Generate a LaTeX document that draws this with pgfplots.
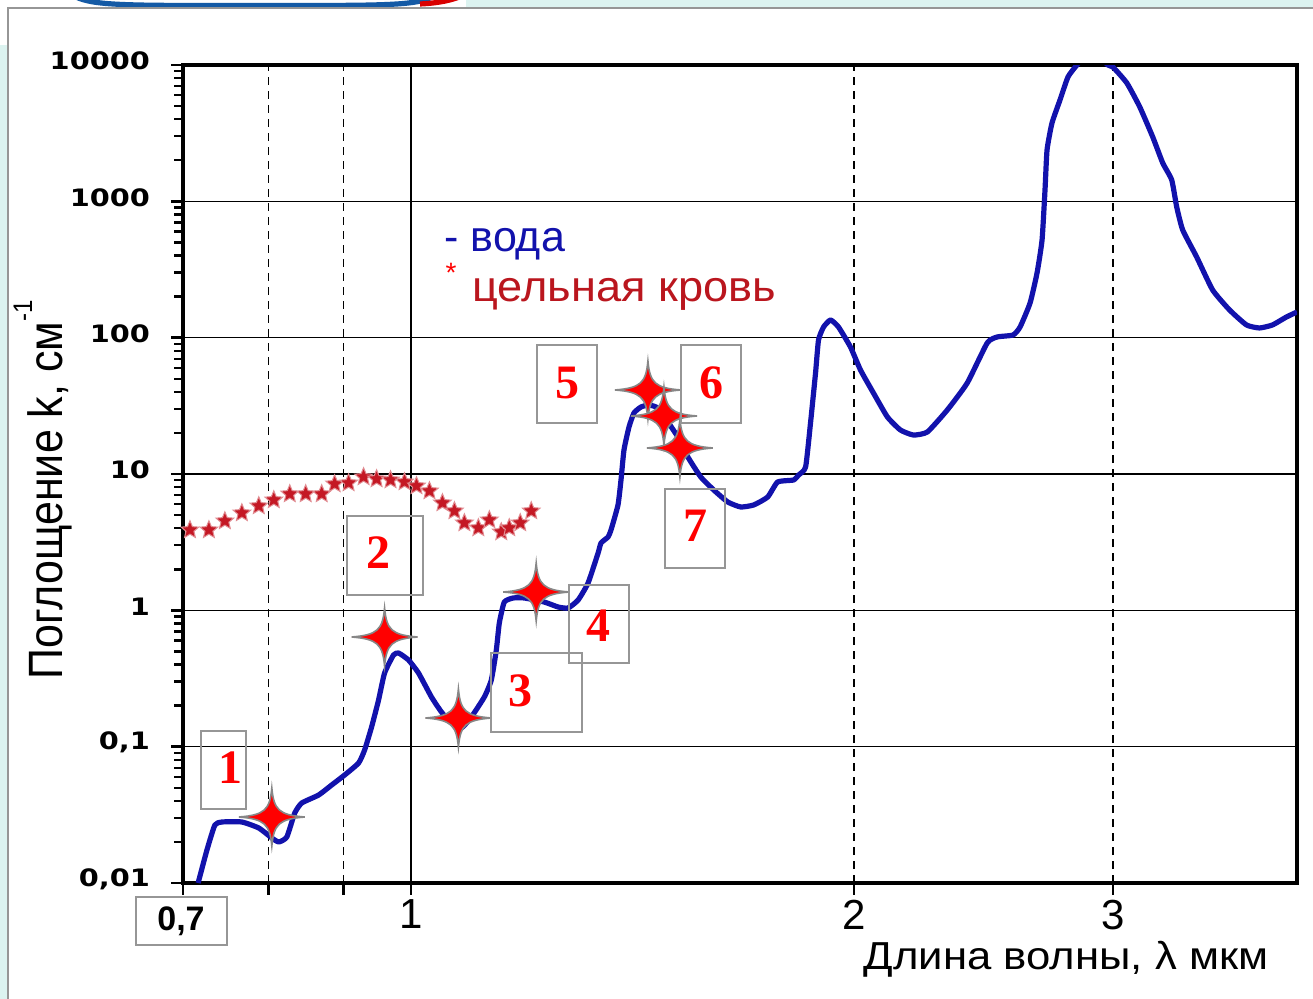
\documentclass[border=0pt]{standalone}
\usepackage{pgfplots}
\pgfplotsset{compat=1.18}
\usepackage{graphicx}
\usepackage{fontspec}
\setmainfont{Liberation Sans}
\newfontfamily\dejavu{DejaVu Sans}
\newfontfamily\tnr{Liberation Serif}
\definecolor{bgteal}{RGB}{220,243,240}
\definecolor{panelgray}{RGB}{150,150,150}
\definecolor{water}{RGB}{18,18,172}
\definecolor{blood}{RGB}{196,24,36}
\definecolor{bloodtxt}{RGB}{186,22,30}
\definecolor{boxgray}{RGB}{150,150,150}
\definecolor{logoblue}{RGB}{20,90,165}
\definecolor{sparkgray}{RGB}{135,135,135}

\newcommand{\yl}[1]{\mbox{\dejavu\bfseries\fontsize{12}{12}\selectfont\scalebox{1.2}[1]{#1}}}

\pgfdeclareplotmark{fstar}{%
 \pgfpathmoveto{\pgfpointpolar{90}{\pgfplotmarksize}}%
 \pgfpathlineto{\pgfpointpolar{126}{0.45\pgfplotmarksize}}%
 \pgfpathlineto{\pgfpointpolar{162}{\pgfplotmarksize}}%
 \pgfpathlineto{\pgfpointpolar{198}{0.45\pgfplotmarksize}}%
 \pgfpathlineto{\pgfpointpolar{234}{\pgfplotmarksize}}%
 \pgfpathlineto{\pgfpointpolar{270}{0.45\pgfplotmarksize}}%
 \pgfpathlineto{\pgfpointpolar{306}{\pgfplotmarksize}}%
 \pgfpathlineto{\pgfpointpolar{342}{0.45\pgfplotmarksize}}%
 \pgfpathlineto{\pgfpointpolar{18}{\pgfplotmarksize}}%
 \pgfpathlineto{\pgfpointpolar{54}{0.45\pgfplotmarksize}}%
 \pgfpathclose
 \pgfusepathqfillstroke
}
\pgfdeclareplotmark{sparkle}{%
 \pgfpathmoveto{\pgfpoint{16.5pt}{0pt}}%
 \pgfpathcurveto{\pgfpoint{3.6pt}{1pt}}{\pgfpoint{1pt}{3.6pt}}{\pgfpoint{0pt}{14.5pt}}%
 \pgfpathcurveto{\pgfpoint{-1pt}{3.6pt}}{\pgfpoint{-3.6pt}{1pt}}{\pgfpoint{-16.5pt}{0pt}}%
 \pgfpathcurveto{\pgfpoint{-3.6pt}{-1pt}}{\pgfpoint{-1pt}{-3.6pt}}{\pgfpoint{0pt}{-14.5pt}}%
 \pgfpathcurveto{\pgfpoint{1pt}{-3.6pt}}{\pgfpoint{3.6pt}{-1pt}}{\pgfpoint{16.5pt}{0pt}}%
 \pgfpathclose
 \pgfusepathqfillstroke
}

\begin{document}
\begin{tikzpicture}
\begin{scope}[x=0.5pt,y=-0.5pt]
\useasboundingbox (0,0) rectangle (1313,999);
\fill[bgteal] (0,0) rectangle (1313,999);
\fill[white] (0,0) rectangle (466,8);
\fill[white] (0,0) rectangle (8,45);
\fill[white] (8,8) rectangle (1320,1005);
\begin{scope}
 \clip (0,0) rectangle (466,7.5);
 \draw[logoblue, line width=2.6pt] (76,-3) .. controls (95,6) and (130,5.5) .. (255,5.5) .. controls (380,5.5) and (415,6) .. (432,-3);
 \draw[red!85!black, line width=2.6pt] (420,4) .. controls (440,3) and (452,0) .. (462,-4);
\end{scope}
\draw[panelgray, line width=1.2pt] (8,1005) -- (8,8) -- (1320,8);
\end{scope}

\begin{axis}[
  at={(91.5pt,-441.5pt)}, anchor=south west,
  scale only axis, width=557pt, height=409pt,
  xmode=log, ymode=log,
  xmin=0.7, xmax=4, ymin=0.01, ymax=10000,
  axis line style={black, line width=1.6pt},
  tick align=outside,
  xtick pos=bottom, ytick pos=left,
  major tick length=6pt, minor tick length=4.5pt,
  every tick/.style={black, line width=1.2pt},
  xtick={0.7,0.8,0.9,2,3},
  xticklabels={,,,\mbox{2},\mbox{3}},
  minor xtick={},
  extra x ticks={1},
  extra x tick labels={\mbox{1}},
  extra x tick style={grid=major, major x grid style={black, line width=0.8pt, solid}},
  xticklabel style={font=\fontsize{21}{21}\selectfont, yshift=1pt},
  ytick={0.01,0.1,1,10,100,1000,10000},
  yticklabels={\yl{0,01},\yl{0,1},\yl{1},\yl{10},\yl{100},\yl{1000},\yl{10000}},
  minor ytick={0.02,0.03,0.04,0.05,0.06,0.07,0.08,0.09,
    0.2,0.3,0.4,0.5,0.6,0.7,0.8,0.9,
    2,3,4,5,6,7,8,9,
    20,30,40,50,60,70,80,90,
    200,300,400,500,600,700,800,900,
    2000,3000,4000,5000,6000,7000,8000,9000},
  yticklabel style={xshift=-7pt, yshift=2pt},
  xmajorgrids, ymajorgrids,
  major x grid style={black, line width=0.8pt, dash pattern=on 4pt off 3pt},
  major y grid style={black, line width=0.8pt},
]
% water
\addplot[water, line width=2.6pt, mark=none, smooth, tension=0.3, line join=round] coordinates {
(0.7167,0.0100) (0.7267,0.01746) (0.7358,0.02663) (0.7439,0.02802) (0.7675,0.02802)
(0.7882,0.02532) (0.8043,0.02139) (0.8131,0.01999) (0.8234,0.02175) (0.8337,0.03263)
(0.8429,0.03862) (0.8655,0.04421) (0.8833,0.05234) (0.9014,0.06197) (0.9213,0.07590)
(0.9300,0.09453) (0.9402,0.1394) (0.9505,0.2199) (0.9595,0.3470) (0.9730,0.4702)
(0.9807,0.4864) (0.9961,0.4323) (1.0118,0.3470) (1.0325,0.2314) (1.0488,0.1796)
(1.0653,0.1492) (1.0820,0.1371) (1.0990,0.1651) (1.1216,0.2314) (1.1339,0.3083)
(1.1428,0.5117) (1.1482,0.8074) (1.1572,1.151) (1.1735,1.232) (1.1939,1.232)
(1.2317,1.151) (1.2589,1.058) (1.2787,1.040) (1.2989,1.191) (1.3193,1.587)
(1.3401,2.634) (1.3463,3.119) (1.3611,3.452) (1.3675,3.886) (1.3825,5.926)
(1.3890,9.036) (1.3955,15.00) (1.4065,22.12) (1.4175,28.03) (1.4331,31.01)
(1.4511,32.08) (1.4716,30.49) (1.4948,24.07) (1.5183,18.68) (1.5422,13.33)
(1.5738,9.508) (1.6061,7.631) (1.6416,6.234) (1.6752,5.729) (1.7096,5.926)
(1.7474,6.782) (1.7749,8.737) (1.8197,9.036) (1.8340,9.834) (1.8542,11.26)
(1.8687,23.66) (1.8834,55.07) (1.8922,96.15) (1.9071,119.8) (1.9280,134.8)
(1.9523,119.8) (1.9891,85.42) (2.0204,57.93) (2.0618,39.29) (2.1074,26.19)
(2.1506,21.03) (2.1947,19.32) (2.2432,20.33) (2.3143,29.48) (2.3877,46.51)
(2.4634,91.41) (2.5022,101.2) (2.5654,104.6) (2.5936,119.8) (2.6344,179.7)
(2.6633,298.1) (2.6842,520.6) (2.6968,1211) (2.7053,2380) (2.7264,3756)
(2.7607,5538) (2.7954,8168) (2.8350,10000) (2.9021,12886) (2.9755,10000)
(2.9988,9668) (3.0651,7380) (3.1279,4920) (3.1921,2963) (3.2423,1910)
(3.2882,1434) (3.3140,908.8) (3.3452,616.3) (3.4191,390.7) (3.5056,223.7)
(3.5998,159.6) (3.6966,123.9) (3.7724,117.8) (3.8497,123.9) (3.9348,141.8)
(4.0,154.3)
};
% whole blood
\addplot[only marks, mark=fstar, mark size=4.6pt, mark options={fill=blood, draw=blood!50!white, line width=0.5pt}] coordinates {
(0.7077,3.886) (0.7290,3.886) (0.7474,4.522) (0.7675,5.176) (0.7882,5.826)
(0.8068,6.448) (0.8272,7.135) (0.8481,7.135) (0.8696,7.135) (0.8874,8.447)
(0.9070,8.591) (0.9285,9.509) (0.9476,9.192) (0.9685,9.036) (0.9899,8.737)
(1.0086,8.167) (1.0293,7.506) (1.0504,6.130) (1.0703,5.354) (1.0871,4.372)
(1.1111,4.018) (1.1304,4.599) (1.1517,3.755) (1.1662,4.018) (1.1864,4.372)
(1.2070,5.354)
};
% marked wavelengths
\addplot[only marks, mark=sparkle, mark options={fill=red, draw=sparkgray, line width=0.8pt}] coordinates {
(0.8043,0.03048) (0.9595,0.6375) (1.0770,0.1623) (1.2164,1.363)
(1.4488,41.33) (1.4855,26.64) (1.5231,15.52)
};
\end{axis}

\begin{scope}[x=0.5pt,y=-0.5pt]
% numbered boxes
\draw[boxgray, line width=1pt] (201,731) rectangle (246,809);
\draw[boxgray, line width=1pt] (347,516) rectangle (423,595);
\draw[boxgray, line width=1pt] (491,653) rectangle (582,732);
\draw[boxgray, line width=1pt] (569,585) rectangle (629,663);
\draw[boxgray, line width=1pt] (537,345) rectangle (597,423);
\draw[boxgray, line width=1pt] (681,345) rectangle (741,423);
\draw[boxgray, line width=1pt] (665,489) rectangle (725,568);
\tikzset{num/.style={text=red, font=\tnr\bfseries\fontsize{24}{24}\selectfont, inner sep=0pt}}
\node[num] at (230,768) {1};
\node[num] at (378,553) {2};
\node[num] at (520,691) {3};
\node[num] at (598,626) {4};
\node[num] at (567,383) {5};
\node[num] at (711,383) {6};
\node[num] at (695,526) {7};
% 0,7 label
\node[draw=boxgray, line width=1pt, minimum width=45.5pt, minimum height=24pt, inner sep=0pt,
  font=\bfseries\fontsize{17}{17}\selectfont] at (181,921) {0,7};
% legend texts
\node[anchor=base west, inner sep=0pt, text=water, font=\fontsize{21.5}{21.5}\selectfont] at (444,252) {- вода};
\node[inner sep=0pt, text=red, font=\fontsize{14}{14}\selectfont] at (451,273) {*};
\node[anchor=base west, inner sep=0pt, text=bloodtxt, font=\fontsize{21.5}{21.5}\selectfont] at (472,302) {\scalebox{1.05}[1]{цельная кровь}};
% axis labels
\node[anchor=base, inner sep=0pt, font=\fontsize{19.5}{19.5}\selectfont] at (1066,970) {\scalebox{1.12}[1]{Длина волны, λ мкм}};
\node[rotate=90, anchor=base, inner sep=0pt, font=\fontsize{21.5}{21.5}\selectfont] at (62,490)
  {\scalebox{1}[1.12]{Поглощение k, см\raisebox{0.62em}{\fontsize{12}{12}\selectfont -1}}};
\end{scope}
\end{tikzpicture}
\end{document}
